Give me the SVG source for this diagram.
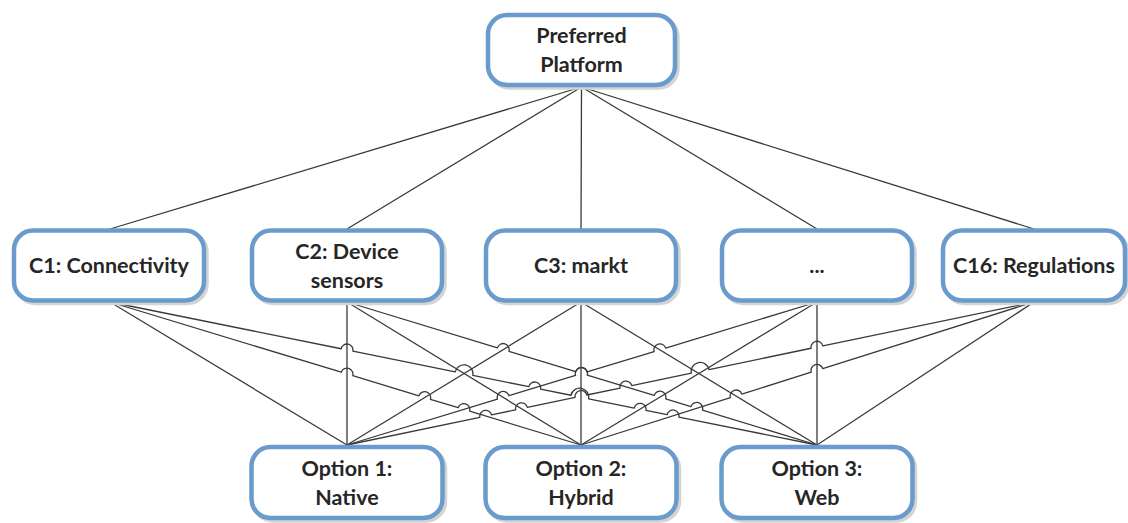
<svg xmlns="http://www.w3.org/2000/svg" width="1128" height="523" viewBox="0 0 1128 523">
<style>
.box{fill:#ffffff;stroke:#6a9bcc;stroke-width:4.5}
.sh{fill:none;stroke:#d4d4d4;stroke-width:4.5}
.t{font-family:Lato,"Liberation Sans",sans-serif;font-weight:bold;font-size:21.5px;fill:#262626;text-anchor:middle}
.c{fill:none;stroke:#3a3a3a;stroke-width:1.3;stroke-linejoin:round}
</style>
<rect width="1128" height="523" fill="#ffffff"/>
<g id="connectors">
<path class="c" d="M581.5,87 L110,229 M581.5,87 L347,229 M581.5,87 L581,229 M581.5,87 L817,229 M581.5,87 L1034,229"/>
<path class="c" d="M110,302 L347,445"/>
<path class="c" d="M110,302 L341.26,372.22 A6,6 0 0 1 352.74,375.70 L418.96,395.81 A6,6 0 0 1 430.44,399.29 L458.16,407.71 A6,6 0 0 1 469.64,411.19 L581,445"/>
<path class="c" d="M110,302 L341.12,348.75 A6,6 0 0 1 352.88,351.13 L455.18,371.82 A9,9 0 0 1 472.82,375.38 L528.82,386.71 A6,6 0 0 1 540.58,389.09 L570.98,395.24 A9,9 0 0 1 588.62,398.80 L634.22,408.03 A6,6 0 0 1 645.98,410.41 L667.12,414.68 A6,6 0 0 1 678.88,417.06 L817,445"/>
<path class="c" d="M347,302 L347,445"/>
<path class="c" d="M347,302 L581,445"/>
<path class="c" d="M347,302 L497.46,347.78 A6,6 0 0 1 508.94,351.28 L575.76,371.60 A6,6 0 0 1 587.24,375.10 L654.16,395.45 A6,6 0 0 1 665.64,398.95 L690.96,406.65 A6,6 0 0 1 702.44,410.15 L817,445"/>
<path class="c" d="M581,302 L347,445"/>
<path class="c" d="M581,302 L581,445"/>
<path class="c" d="M581,302 L817,445"/>
<path class="c" d="M347,445 L497.46,399.22 A6,6 0 0 1 508.94,395.72 L575.56,375.46 A6,6 0 0 1 587.04,371.96 L654.16,351.55 A6,6 0 0 1 665.64,348.05 L817,302"/>
<path class="c" d="M817,302 L581,445"/>
<path class="c" d="M817,302 L817,445"/>
<path class="c" d="M347,445 L479.83,417.31 A6,6 0 0 1 491.57,414.87 L515.63,409.85 A6,6 0 0 1 527.37,407.41 L575.13,397.44 A6,6 0 0 1 586.87,395.00 L620.03,388.08 A6,6 0 0 1 631.77,385.64 L691.39,373.22 A9,9 0 0 1 709.01,369.54 L811.13,348.25 A6,6 0 0 1 822.87,345.81 L1034,302"/>
<path class="c" d="M581,445 L730.38,397.74 A6,6 0 0 1 741.82,394.12 L811.28,372.15 A6,6 0 0 1 822.72,368.53 L1034,302"/>
<path class="c" d="M1034,302 L817,445"/>
</g>
<g id="preferred-platform">
<rect class="sh" x="490.5" y="17.5" width="187" height="70" rx="19"/>
<rect class="box" x="488" y="15" width="187" height="70" rx="19"/>
<text class="t" x="581.5" y="43">Preferred</text>
<text class="t" x="581.5" y="72">Platform</text>
</g>
<g id="c1">
<rect class="sh" x="16.5" y="233" width="190" height="70" rx="19"/>
<rect class="box" x="14" y="230.5" width="190" height="70" rx="19"/>
<text class="t" x="109" y="273">C1: Connectivity</text>
</g>
<g id="c2">
<rect class="sh" x="254.5" y="233" width="190" height="70" rx="19"/>
<rect class="box" x="252" y="230.5" width="190" height="70" rx="19"/>
<text class="t" x="347" y="259">C2: Device</text>
<text class="t" x="347" y="288">sensors</text>
</g>
<g id="c3">
<rect class="sh" x="488.5" y="233" width="190" height="70" rx="19"/>
<rect class="box" x="486" y="230.5" width="190" height="70" rx="19"/>
<text class="t" x="581" y="273">C3: markt</text>
</g>
<g id="c-more">
<rect class="sh" x="724.5" y="233" width="190" height="70" rx="19"/>
<rect class="box" x="722" y="230.5" width="190" height="70" rx="19"/>
<text class="t" x="817" y="273">...</text>
</g>
<g id="c16">
<rect class="sh" x="945.5" y="233" width="182" height="70" rx="19"/>
<rect class="box" x="943" y="230.5" width="182" height="70" rx="19"/>
<text class="t" x="1034" y="273">C16: Regulations</text>
</g>
<g id="option1">
<rect class="sh" x="254" y="449.5" width="191" height="71" rx="19"/>
<rect class="box" x="251.5" y="447" width="191" height="71" rx="19"/>
<text class="t" x="347" y="476">Option 1:</text>
<text class="t" x="347" y="505">Native</text>
</g>
<g id="option2">
<rect class="sh" x="488" y="449.5" width="191" height="71" rx="19"/>
<rect class="box" x="485.5" y="447" width="191" height="71" rx="19"/>
<text class="t" x="581" y="476">Option 2:</text>
<text class="t" x="581" y="505">Hybrid</text>
</g>
<g id="option3">
<rect class="sh" x="724" y="449.5" width="191" height="71" rx="19"/>
<rect class="box" x="721.5" y="447" width="191" height="71" rx="19"/>
<text class="t" x="817" y="476">Option 3:</text>
<text class="t" x="817" y="505">Web</text>
</g>
</svg>
